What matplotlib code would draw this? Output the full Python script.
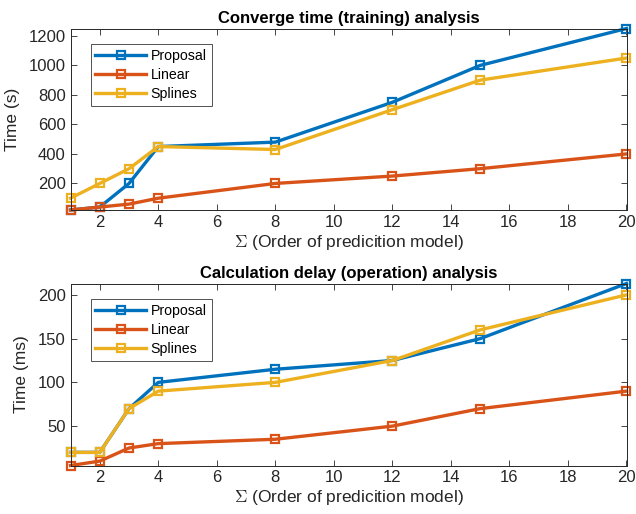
import matplotlib
matplotlib.use("Agg")
import matplotlib.pyplot as plt

order = [1, 2, 3, 4, 8, 12, 15, 20]
xticks = [2, 4, 6, 8, 10, 12, 14, 16, 18, 20]

train_proposal = [20, 40, 200, 450, 480, 750, 1000, 1250]
train_linear = [20, 40, 60, 100, 200, 250, 300, 400]
train_splines = [100, 200, 300, 450, 430, 700, 900, 1050]
train_yticks = [200, 400, 600, 800, 1000, 1200]

op_proposal = [20, 20, 70, 100, 115, 125, 150, 213]
op_linear = [5, 10, 25, 30, 35, 50, 70, 90]
op_splines = [20, 20, 70, 90, 100, 125, 160, 200]
op_yticks = [50, 100, 150, 200]

names = ["Proposal", "Linear", "Splines"]
colors = ["#0072BD", "#D95319", "#EDB120"]

plt.rcParams['font.family'] = ['Liberation Sans', 'DejaVu Sans']
plt.rcParams['mathtext.fontset'] = 'cm'
W, H = 636, 514
fig = plt.figure(figsize=(W / 100, H / 100), dpi=100)

def make_ax(top, bottom):
    return fig.add_axes([70.5 / W, 1 - bottom / H, (626.5 - 70.5) / W, (bottom - top) / H])

ax1 = make_ax(28.5, 210)
ax2 = make_ax(283.5, 465.5)

axcol = "#262626"
panels = [
    (ax1, [train_proposal, train_linear, train_splines], train_yticks, "Time (s)",
     "Converge time (training) analysis"),
    (ax2, [op_proposal, op_linear, op_splines], op_yticks, "Time (ms)",
     "Calculation delay (operation) analysis"),
]
for ax, series, yt, ylab, title in panels:
    for vals, name, c in zip(series, names, colors):
        ax.plot(order, vals, color=c, lw=2.4, marker="s", ms=5.5, mfc="none",
                mew=1.6, label=name, clip_on=False)
    allv = [v for s in series for v in s]
    ax.set_xlim(min(order), max(order))
    ax.set_ylim(min(allv), max(allv))
    ax.set_xticks(xticks)
    ax.set_yticks(yt)
    ax.tick_params(direction="in", length=4, width=0.6, colors=axcol, labelsize=12,
                   top=True, right=True, labeltop=False, labelright=False)
    for sp in ax.spines.values():
        sp.set_color(axcol)
        sp.set_linewidth(0.7)
    ax.set_xlabel(r"$\Sigma$ (Order of predicition model)", fontsize=12.5, color=axcol,
                  labelpad=2)
    ax.set_ylabel(ylab, fontsize=12.5, color=axcol, labelpad=6)
    ax.set_title(title, fontsize=12, fontweight="bold", color="black", pad=4)
    leg = ax.legend(loc="upper left", bbox_to_anchor=(0.036, 0.915), fontsize=10.2,
                    frameon=True, fancybox=False, edgecolor=axcol, handlelength=3.6,
                    borderpad=0.35, labelspacing=0.35, handletextpad=0.3,
                    borderaxespad=0)
    leg.get_frame().set_linewidth(0.7)

fig.savefig("out.png", dpi=100)
